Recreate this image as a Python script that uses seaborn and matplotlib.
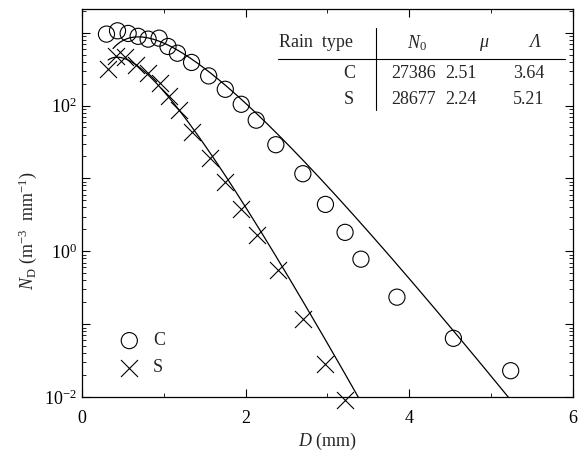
import numpy as np
import pandas as pd
import matplotlib
matplotlib.use("Agg")
import matplotlib.pyplot as plt
from matplotlib.ticker import LogLocator, FuncFormatter, NullFormatter
import seaborn as sns

d_conv = [0.30, 0.435, 0.565, 0.687, 0.809, 0.943, 1.052, 1.167, 1.34, 1.549, 1.752,
          1.947, 2.13, 2.37, 2.70, 2.976, 3.216, 3.41, 3.85, 4.54, 5.24]
n_conv = [955, 1060, 975, 890, 815, 840, 646, 522, 390, 255, 167,
          104, 63, 29, 11.6, 4.4, 1.82, 0.78, 0.235, 0.064, 0.023]
d_strat = [0.32, 0.415, 0.524, 0.66, 0.805, 0.95, 1.07, 1.19, 1.35, 1.56, 1.752,
           1.948, 2.138, 2.394, 2.70, 2.976, 3.216]
n_strat = [320, 475, 460, 357, 282, 205, 134, 87, 43, 19.2, 8.9,
           3.8, 1.69, 0.55, 0.117, 0.028, 0.0091]

# gamma fit parameters
rain_types = ["C", "S"]
n0 = [27386, 28677]
mu = [2.51, 2.24]
lam = [3.64, 5.21]
d_start = [0.38, 0.32]

sns.set_style("ticks")
plt.rcParams["font.family"] = ["Liberation Serif", "DejaVu Serif"]
plt.rcParams["mathtext.fontset"] = "custom"
plt.rcParams["mathtext.rm"] = "Liberation Serif"
plt.rcParams["mathtext.it"] = "Liberation Serif:italic"
plt.rcParams["mathtext.bf"] = "Liberation Serif:bold"

fig = plt.figure(figsize=(5.81, 4.58), dpi=100)
ax = fig.add_axes([0.141, 0.133, 0.845, 0.847])

# fitted curves N(D) = N0 D^mu exp(-lam D)
for i, t in enumerate(rain_types):
    dd = np.linspace(d_start[i], 6, 400)
    fit = pd.DataFrame({"D": dd, "N": n0[i] * dd ** mu[i] * np.exp(-lam[i] * dd)})
    sns.lineplot(data=fit, x="D", y="N", color="black", lw=0.9, ax=ax)

df_c = pd.DataFrame({"D": d_conv, "N": n_conv})
df_s = pd.DataFrame({"D": d_strat, "N": n_strat})
sns.scatterplot(data=df_c, x="D", y="N", marker="o", s=135, facecolor="none",
                edgecolor="black", linewidth=0.8, label="C", ax=ax, zorder=3)
sns.scatterplot(data=df_s, x="D", y="N", marker="x", s=150, color="black",
                linewidth=0.8, label="S", ax=ax, zorder=3, clip_on=False)

ax.set_yscale("log")
ax.set_xlim(0, 6)
ax.set_ylim(1e-2, 2.1e3)
ax.set_xticks([0, 2, 4, 6])
ax.set_xticks([1, 3, 5], minor=True)
ax.yaxis.set_major_locator(LogLocator(base=10, numticks=20))
ax.yaxis.set_minor_locator(LogLocator(base=10, subs=np.arange(2, 10), numticks=20))
ax.yaxis.set_minor_formatter(NullFormatter())


def fmt(v, pos):
    e = int(round(np.log10(v)))
    if e % 2 == 0:
        return r"$10^{%d}$" % e if e >= 0 else r"$10^{\mathrm{-}%d}$" % -e
    return ""


ax.yaxis.set_major_formatter(FuncFormatter(fmt))
ax.tick_params(which="both", direction="in", top=True, right=True, labelsize=13, colors="black")
ax.tick_params(which="major", length=6, width=0.8)
ax.tick_params(axis="x", which="major", pad=9)
ax.tick_params(which="minor", length=3, width=0.6)
for s in ax.spines.values():
    s.set_linewidth(0.9)
    s.set_color("black")

ax.set_xlabel(r"$D$ (mm)", fontsize=13, labelpad=3)
ax.set_ylabel(r"$N_\mathrm{D}$ (m$^{-3}$  mm$^{-1}$)", fontsize=13)
ax.yaxis.set_label_coords(-0.088, 0.43)

leg = ax.legend(loc="lower left", bbox_to_anchor=(0.045, 0.035), frameon=False,
                fontsize=13, handletextpad=0.3, labelspacing=0.55, borderaxespad=0)

# parameter table
tx = ax.transAxes
kw = dict(transform=tx, fontsize=13, va="center")
ax.text(0.401, 0.913, "Rain  type", ha="left", **kw)
ax.text(0.682, 0.913, r"$N_0$", ha="center", **kw)
ax.text(0.817, 0.913, "μ", ha="center", fontstyle="italic", **kw)
ax.text(0.923, 0.913, "Λ", ha="center", fontstyle="italic", **kw)
for i, t in enumerate(rain_types):
    y = 0.833 - i * 0.067
    ax.text(0.544, y, t, ha="center", **kw)
    ax.text(0.675, y, str(n0[i]), ha="center", **kw)
    ax.text(0.773, y, "%.2f" % mu[i], ha="center", **kw)
    ax.text(0.910, y, "%.2f" % lam[i], ha="center", **kw)
ax.plot([0.399, 0.984], [0.871, 0.871], transform=tx, color="black", lw=0.8)
ax.plot([0.599, 0.599], [0.740, 0.952], transform=tx, color="black", lw=0.8)

fig.savefig("out.png", dpi=100)
